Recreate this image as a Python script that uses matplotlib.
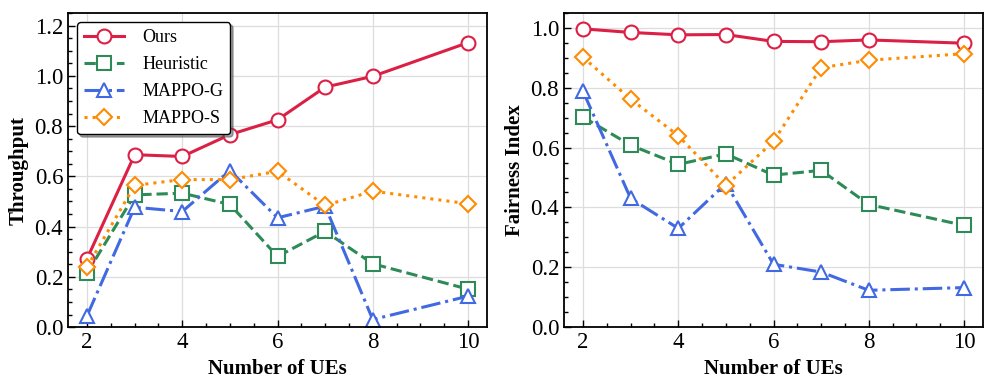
import matplotlib

matplotlib.use("Agg")
import matplotlib.pyplot as plt
from matplotlib.ticker import MultipleLocator

ues = [2, 3, 4, 5, 6, 7, 8, 10]
methods = ["Ours", "Heuristic", "MAPPO-G", "MAPPO-S"]

throughput_ours = [0.272, 0.686, 0.679, 0.766, 0.825, 0.955, 0.998, 1.132]
throughput_heur = [0.215, 0.526, 0.533, 0.488, 0.281, 0.381, 0.252, 0.151]
throughput_mg = [0.045, 0.477, 0.460, 0.623, 0.435, 0.481, 0.030, 0.123]
throughput_ms = [0.239, 0.564, 0.587, 0.587, 0.620, 0.484, 0.541, 0.491]

fairness_ours = [0.997, 0.985, 0.977, 0.978, 0.955, 0.954, 0.960, 0.949]
fairness_heur = [0.702, 0.608, 0.544, 0.579, 0.508, 0.524, 0.410, 0.340]
fairness_mg = [0.788, 0.430, 0.330, 0.480, 0.210, 0.184, 0.123, 0.132]
fairness_ms = [0.902, 0.762, 0.640, 0.473, 0.621, 0.867, 0.892, 0.914]

STYLES = {
    "Ours": dict(color="#DC1F45", linestyle="-", marker="o"),
    "Heuristic": dict(color="#2E8B57", linestyle="--", marker="s"),
    "MAPPO-G": dict(color="#4169E1", linestyle="-.", marker="^"),
    "MAPPO-S": dict(color="#FF8C00", linestyle=":", marker="D"),
}

plt.rcParams["font.family"] = ["Liberation Serif", "DejaVu Serif"]
plt.rcParams["mathtext.fontset"] = "stix"


def draw(ax, series, ylabel, ylim):
    for name, vals in zip(methods, series):
        st = STYLES[name]
        ms = 8 if st["marker"] == "D" else 10
        ax.plot(ues, vals, color=st["color"], linestyle=st["linestyle"], marker=st["marker"],
                markersize=ms, markerfacecolor="white", markeredgewidth=1.5,
                linewidth=2.2, label=name)
    ax.set_xlim(1.6, 10.4)
    ax.set_ylim(*ylim)
    ax.set_xticks([2, 4, 6, 8, 10])
    ax.xaxis.set_minor_locator(MultipleLocator(0.5))
    ax.yaxis.set_major_locator(MultipleLocator(0.2))
    ax.yaxis.set_minor_locator(MultipleLocator(0.05))
    ax.tick_params(which="both", direction="in", labelsize=16.5, width=1.0)
    ax.tick_params(which="major", length=5)
    ax.tick_params(which="minor", length=3)
    ax.grid(True, which="major", color="#dddddd", linewidth=0.9)
    ax.set_axisbelow(True)
    for sp in ax.spines.values():
        sp.set_linewidth(1.3)
    ax.set_xlabel("Number of UEs", fontsize=15, fontweight="bold")
    ax.set_ylabel(ylabel, fontsize=15, fontweight="bold")
    ax.yaxis.set_major_formatter(plt.FuncFormatter(lambda v, p: f"{v:.1f}"))


fig = plt.figure(figsize=(9.97, 3.88), dpi=100)
ax1 = fig.add_axes([0.0682, 0.157, 0.4203, 0.8095])
ax2 = fig.add_axes([0.5657, 0.157, 0.4203, 0.8095])

draw(ax1, [throughput_ours, throughput_heur, throughput_mg, throughput_ms], "Throughput", (0, 1.25))
draw(ax2, [fairness_ours, fairness_heur, fairness_mg, fairness_ms], "Fairness Index", (0, 1.05))

leg = ax1.legend(loc="upper left", fontsize=13, frameon=True, shadow=True, fancybox=True,
                 edgecolor="black", framealpha=1.0, borderaxespad=0.5, handlelength=2.2,
                 labelspacing=0.55, handletextpad=1.0)
leg.get_frame().set_linewidth(1.0)

fig.savefig("out.png", dpi=100)
